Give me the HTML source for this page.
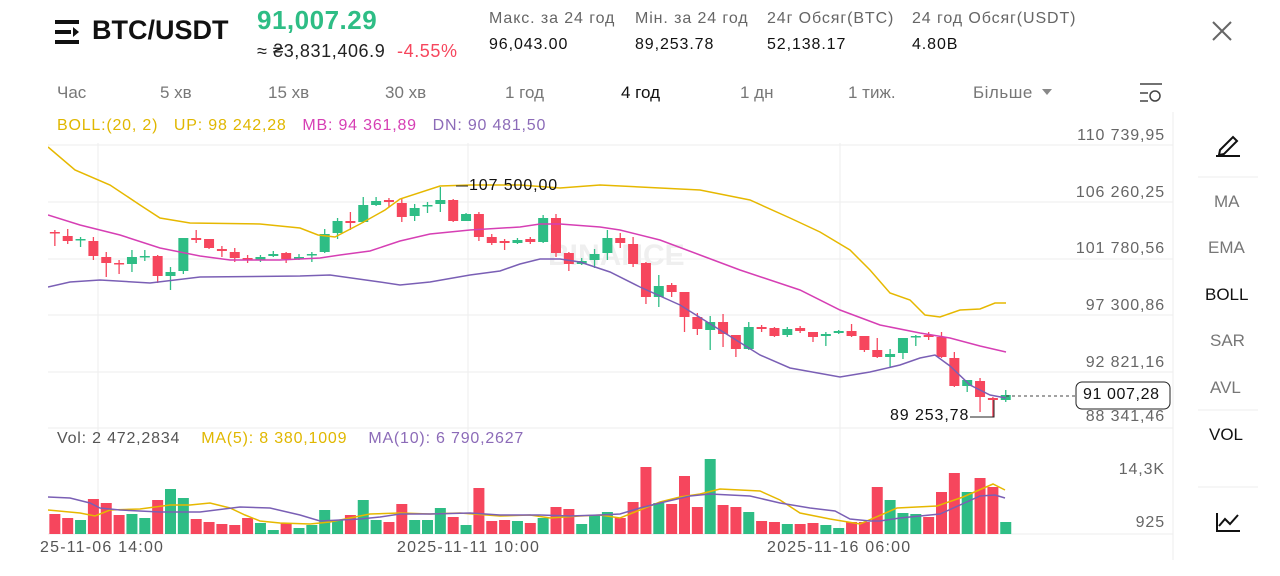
<!DOCTYPE html>
<html><head><meta charset="utf-8"><style>
body{margin:0;width:1280px;height:576px;background:#fff;font-family:"Liberation Sans",sans-serif;position:relative;overflow:hidden}
.t{position:absolute;white-space:nowrap}
.ax{font-size:16px;letter-spacing:0.9px;color:#666}
.st{font-size:16px;letter-spacing:0.9px}
</style></head><body>
<svg width="1280" height="576" style="position:absolute;left:0;top:0" id="s" xmlns="http://www.w3.org/2000/svg">
<rect x="55" y="20" width="24" height="4" fill="#111"/>
<rect x="55" y="30" width="16" height="4" fill="#111"/>
<rect x="55" y="40" width="24" height="4" fill="#111"/>
<path d="M73 27 L79 32 L73 37 Z" fill="#111"/>
<g stroke="#eee" stroke-width="1">
<line x1="48" y1="145" x2="1173" y2="145"/><line x1="48" y1="202" x2="1173" y2="202"/>
<line x1="48" y1="259" x2="1173" y2="259"/><line x1="48" y1="315" x2="1173" y2="315"/>
<line x1="48" y1="372" x2="1173" y2="372"/><line x1="48" y1="428" x2="1173" y2="428"/>
<line x1="48" y1="534" x2="1173" y2="534"/>
<line x1="98" y1="143" x2="98" y2="534"/><line x1="468" y1="143" x2="468" y2="534"/><line x1="840" y1="143" x2="840" y2="534"/>
<line x1="1173" y1="112" x2="1173" y2="560"/>
<line x1="1198" y1="177" x2="1258" y2="177"/><line x1="1198" y1="410" x2="1258" y2="410"/><line x1="1198" y1="487" x2="1258" y2="487"/>
</g>
<defs><clipPath id="c"><rect x="48" y="140" width="1125" height="400"/></clipPath></defs>
<text x="548" y="265" font-size="30" font-weight="bold" fill="#efefef" font-family="Liberation Sans">BINANCE</text>
<g clip-path="url(#c)" id="g"></g>
<line x1="1006" y1="396" x2="1076" y2="396" stroke="#444" stroke-dasharray="3,3"/>
<line x1="456" y1="186" x2="468" y2="186" stroke="#222"/>
<polyline points="970,417 994,417 994,400" fill="none" stroke="#222"/>
<rect x="1076" y="382" width="94" height="27" rx="6" fill="#fff" stroke="#222"/>
<g stroke="#444" fill="none" stroke-width="1.5"><line x1="1140" y1="84" x2="1162" y2="84"/><line x1="1140" y1="93" x2="1148" y2="93"/><line x1="1140" y1="101" x2="1148" y2="101"/><circle cx="1155" cy="96" r="5"/></g>
<g stroke="#111" fill="none" stroke-width="2"><path d="M1220 150 L1233 137 L1237 141 L1224 154 L1219 155 Z"/><line x1="1216" y1="156" x2="1240" y2="156"/>
<path d="M1217 513 L1217 531 L1240 531 M1219 526 L1225 519 L1230 524 L1238 515"/></g>
<g stroke="#666" stroke-width="2"><line x1="1213" y1="22" x2="1231" y2="40"/><line x1="1231" y1="22" x2="1213" y2="40"/></g>
<path d="M1042 89 L1052 89 L1047 95 Z" fill="#888"/>
</svg>
<div class="t" style="left:92px;top:15px;font-size:27px;font-weight:bold;color:#111">BTC/USDT</div>
<div class="t" style="left:257px;top:5px;font-size:26px;font-weight:bold;color:#2ebd85;letter-spacing:0.5px">91,007.29</div>
<div class="t" style="left:257px;top:41px;font-size:18px;color:#222;letter-spacing:0.6px">≈ ₴3,831,406.9 <span style="color:#f6465d;margin-left:6px">-4.55%</span></div>
<div class="t st" style="left:489px;top:10px;color:#666">Макс. за 24 год</div>
<div class="t st" style="left:489px;top:36px;color:#111">96,043.00</div>
<div class="t st" style="left:635px;top:10px;color:#666">Мін. за 24 год</div>
<div class="t st" style="left:635px;top:36px;color:#111">89,253.78</div>
<div class="t st" style="left:767px;top:10px;color:#666">24г Обсяг(BTC)</div>
<div class="t st" style="left:767px;top:36px;color:#111">52,138.17</div>
<div class="t st" style="left:912px;top:10px;color:#666">24 год Обсяг(USDT)</div>
<div class="t st" style="left:912px;top:36px;color:#111">4.80B</div>
<div class="t" style="top:83px;font-size:17px;color:#777;left:57px">Час</div>
<div class="t" style="top:83px;font-size:17px;color:#777;left:160px">5 хв</div>
<div class="t" style="top:83px;font-size:17px;color:#777;left:268px">15 хв</div>
<div class="t" style="top:83px;font-size:17px;color:#777;left:385px">30 хв</div>
<div class="t" style="top:83px;font-size:17px;color:#777;left:505px">1 год</div>
<div class="t" style="top:83px;font-size:17px;color:#111;left:621px">4 год</div>
<div class="t" style="top:83px;font-size:17px;color:#777;left:740px">1 дн</div>
<div class="t" style="top:83px;font-size:17px;color:#777;left:848px">1 тиж.</div>
<div class="t" style="top:83px;font-size:17px;color:#777;left:973px;letter-spacing:0.5px">Більше</div>
<div class="t" style="top:117px;left:57px;font-size:16px;letter-spacing:0.8px"><span style="color:#e0b700">BOLL:(20, 2)&nbsp;&nbsp; UP: 98 242,28</span>&nbsp;&nbsp; <span style="color:#d63fb4">MB: 94 361,89</span>&nbsp;&nbsp; <span style="color:#8c6bb8">DN: 90 481,50</span></div>
<div class="t" style="top:430px;left:57px;font-size:16px;letter-spacing:0.8px"><span style="color:#555">Vol: 2 472,2834</span>&nbsp;&nbsp;&nbsp; <span style="color:#e0b700">MA(5): 8 380,1009</span>&nbsp;&nbsp;&nbsp; <span style="color:#8c6bb8">MA(10): 6 790,2627</span></div>
<div class="t ax" style="top:127px;right:115px">110 739,95</div>
<div class="t ax" style="top:184px;right:115px">106 260,25</div>
<div class="t ax" style="top:240px;right:115px">101 780,56</div>
<div class="t ax" style="top:297px;right:115px">97 300,86</div>
<div class="t ax" style="top:354px;right:115px">92 821,16</div>
<div class="t ax" style="top:408px;right:115px">88 341,46</div>
<div class="t ax" style="top:461px;right:115px">14,3K</div>
<div class="t ax" style="top:514px;right:115px">925</div>
<div class="t" style="top:386px;left:1083px;font-size:16px;color:#111;letter-spacing:0.6px">91 007,28</div>
<div class="t st" style="top:177px;left:469px;color:#111">107 500,00</div>
<div class="t st" style="top:407px;left:890px;color:#111">89 253,78</div>
<div class="t" style="top:539px;left:40px;font-size:16px;letter-spacing:1.2px;color:#555">25-11-06 14:00</div>
<div class="t" style="top:539px;left:397px;font-size:16px;letter-spacing:1.2px;color:#555">2025-11-11 10:00</div>
<div class="t" style="top:539px;left:767px;font-size:16px;letter-spacing:1.2px;color:#555">2025-11-16 06:00</div>
<div class="t" style="top:192px;left:1214px;font-size:17px;color:#777">MA</div>
<div class="t" style="top:238px;left:1208px;font-size:17px;color:#777">EMA</div>
<div class="t" style="top:285px;left:1205px;font-size:17px;color:#111">BOLL</div>
<div class="t" style="top:331px;left:1210px;font-size:17px;color:#777">SAR</div>
<div class="t" style="top:378px;left:1210px;font-size:17px;color:#777">AVL</div>
<div class="t" style="top:425px;left:1209px;font-size:17px;color:#111">VOL</div>
<script>
var C=[[232,233,230,246],[232,233,230,246],[236,241,229,244],[240,239,237,247],[241,256,237,260],[257,263,252,277],[263,264,260,274],[264,257,250,272],[257,256,250,261],[256,276,255,283],[276,272,267,290],[271,238,238,274],[238,240,230,243],[239,248,239,249],[249,251,246,257],[252,258,248,262],[258,259,255,263],[260,257,255,262],[256,254,251,257],[253,259,252,263],[259,257,254,260],[255,254,252,262],[252,234,229,253],[233,221,218,239],[221,223,212,230],[222,205,197,223],[205,201,197,206],[200,202,198,207],[203,217,198,222],[216,208,204,221],[206,205,202,213],[204,200,187,212],[200,221,199,222],[221,214,213,221],[214,237,212,241],[237,243,234,245],[241,243,239,250],[243,240,238,244],[239,242,237,244],[242,218,215,243],[218,253,214,257],[253,264,252,271],[264,261,258,265],[260,254,249,268],[253,238,230,260],[238,243,233,248],[244,264,237,267],[263,297,262,304],[297,286,275,307],[285,292,283,297],[292,317,292,332],[317,329,313,335],[330,322,316,350],[322,334,314,347],[335,349,335,357],[349,327,322,350],[327,329,325,332],[328,336,327,337],[335,329,327,337],[328,331,326,333],[332,337,332,342],[336,334,332,346],[333,331,330,334],[331,336,324,337],[336,350,336,352],[350,357,338,358],[357,354,349,368],[353,338,338,359],[337,336,335,346],[335,337,332,340],[337,357,332,358],[358,386,352,387],[386,380,380,392],[381,397,378,412],[398,400,397,417],[400,395,390,402]];
var V=[520,514,518,520,499,503,515,514,518,500,489,498,519,522,524,525,518,523,530,523,528,525,510,520,515,500,520,522,504,520,520,508,517,525,488,521,520,521,523,518,507,509,524,515,512,518,502,467,503,504,476,507,459,505,507,512,521,522,524,524,523,525,528,522,522,487,500,513,514,517,492,473,492,478,487,522];
var s='';
for(var i=0;i<C.length;i++){var x=42+i*12.85,c=C[i],up=c[1]<c[0],col=up?'#2ebd85':'#f6465d';
var t=Math.min(c[0],c[1]),h=Math.max(1.5,Math.abs(c[1]-c[0]));
s+='<line x1="'+x+'" y1="'+c[2]+'" x2="'+x+'" y2="'+c[3]+'" stroke="'+col+'" stroke-width="1.3"/>';
s+='<rect x="'+(x-5)+'" y="'+t+'" width="10" height="'+h+'" fill="'+col+'"/>';
s+='<rect x="'+(x-5.5)+'" y="'+V[i]+'" width="11" height="'+(534-V[i])+'" fill="'+col+'"/>';}
function pl(p,c){return '<polyline points="'+p+'" fill="none" stroke="'+c+'" stroke-width="1.5"/>';}
s+=pl('48,147 75,170 110,185 140,205 160,218 190,223 260,224 300,228 318,235 335,237 360,224 385,210 400,199 440,186 470,185 520,185 560,188 600,185 640,187 700,190 750,200 790,218 820,232 850,250 870,270 890,293 910,300 925,315 940,317 960,310 980,309 995,303 1006,303','#e6b800');
s+=pl('48,215 80,225 120,235 160,248 200,256 230,260 280,260 320,258 340,255 370,251 400,241 430,234 470,230 520,227 540,224 560,224 600,227 620,230 660,240 700,255 740,270 800,290 840,310 880,325 920,333 950,338 980,346 1006,352','#d63fb4');
s+=pl('48,287 70,282 100,280 150,283 200,277 300,276 330,275 380,282 400,285 430,282 470,275 500,271 520,264 540,259 560,259 580,262 610,272 640,287 680,305 720,330 760,355 790,368 840,377 870,372 900,365 920,358 935,355 950,366 970,385 990,395 1006,398','#7a5fb5');
s+=pl('48,510 80,513 95,516 110,510 140,509 170,505 190,505 210,503 230,508 245,515 260,521 280,523 310,524 330,522 350,518 370,514 400,513 430,514 460,513 500,516 530,515 550,518 580,516 600,515 620,518 640,510 660,502 680,497 700,494 720,489 740,490 760,491 780,500 800,513 830,519 860,524 897,508 937,506 963,497 993,484 1005,490','#e6b800');
s+=pl('48,497 70,498 90,503 100,508 120,510 160,512 200,512 240,507 270,508 300,515 320,521 340,520 360,519 380,517 400,514 430,514 470,513 500,515 540,515 570,516 600,515 620,514 640,508 660,503 690,496 710,494 750,496 780,503 810,508 835,511 850,519 870,521 880,521 900,518 940,514 960,505 980,496 995,495 1005,498','#7a5fb5');
document.getElementById('g').innerHTML=s;
</script>
</body></html>
